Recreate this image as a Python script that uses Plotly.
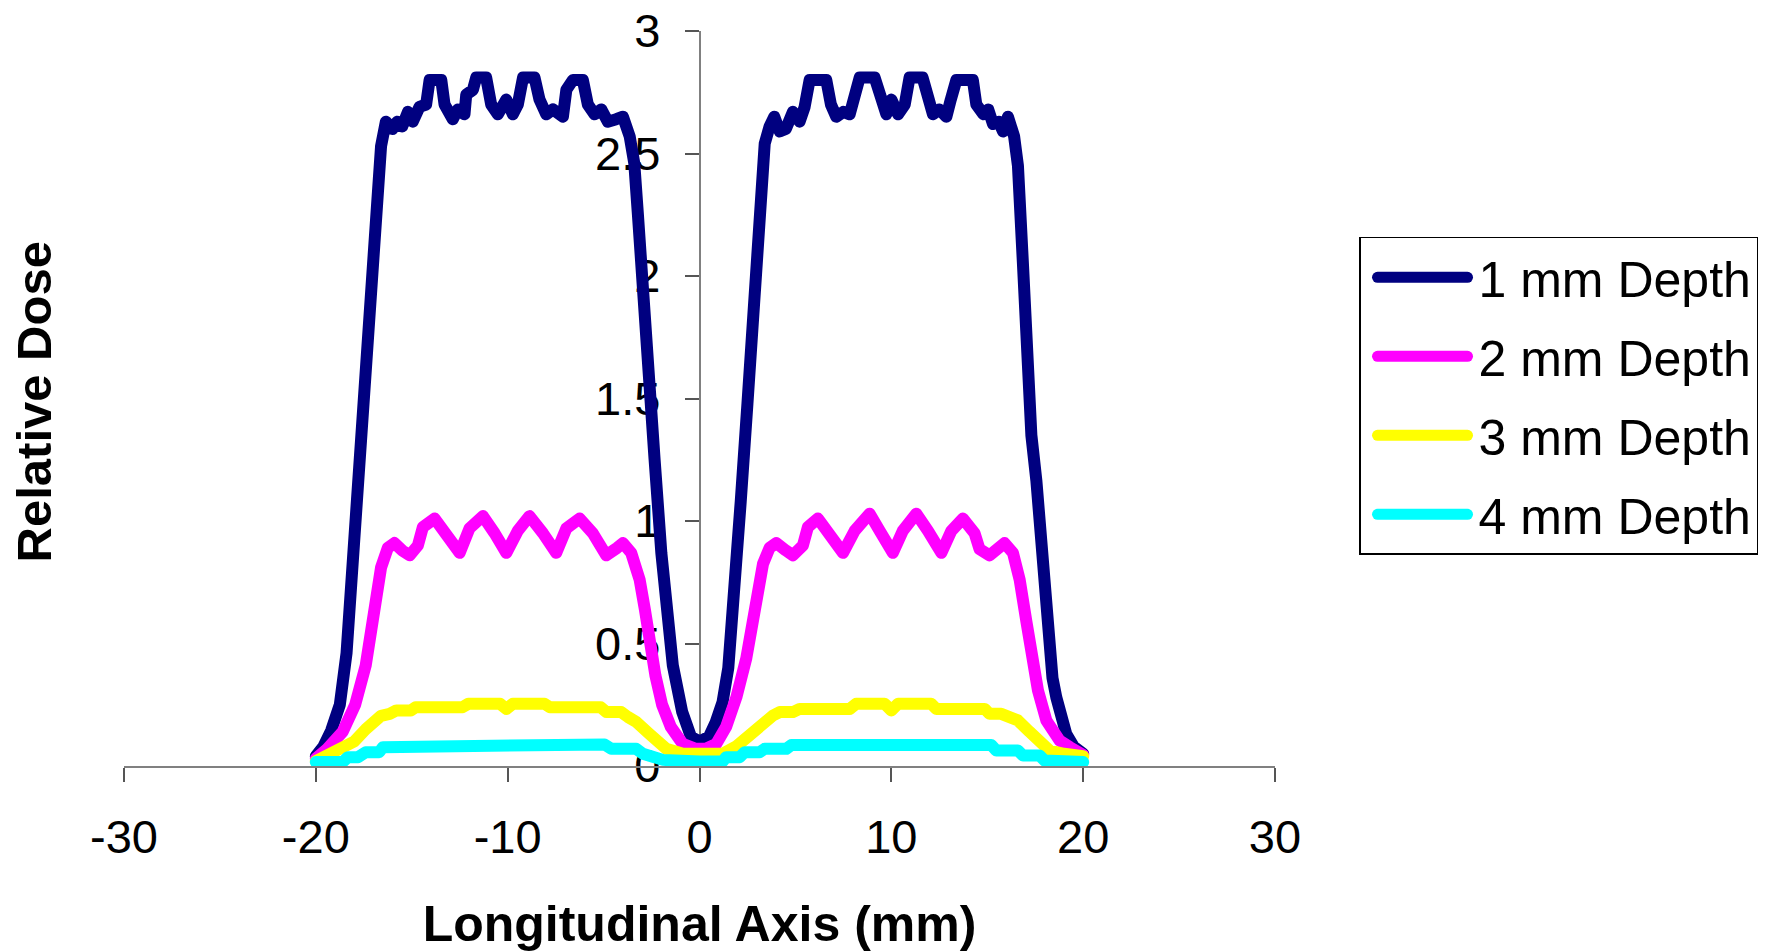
import plotly.graph_objects as go

# ---------------- data ----------------
x_tick_vals = [-30, -20, -10, 0, 10, 20, 30]
x_tick_text = ["-30", "-20", "-10", "0", "10", "20", "30"]
y_tick_vals = [0, 0.5, 1, 1.5, 2, 2.5, 3]
y_tick_text = ["0", "0.5", "1", "1.5", "2", "2.5", "3"]

series_names = ["1 mm Depth", "2 mm Depth", "3 mm Depth", "4 mm Depth"]
series_colors = ["#000080", "#FF00FF", "#FFFF00", "#00FFFF"]

depth1 = [
    (-20.0, 0.04), (-19.6, 0.08), (-19.2, 0.145), (-18.75, 0.25), (-18.4, 0.46),
    (-18.1, 0.82), (-17.9, 1.0), (-17.65, 1.25), (-17.4, 1.6), (-17.15, 2.0),
    (-16.85, 2.35), (-16.6, 2.53), (-16.35, 2.63), (-16.0, 2.60), (-15.75, 2.63),
    (-15.5, 2.61), (-15.2, 2.67), (-14.95, 2.63), (-14.6, 2.69), (-14.25, 2.70),
    (-14.07, 2.80), (-13.46, 2.80), (-13.29, 2.70), (-13.1, 2.68), (-12.86, 2.64),
    (-12.6, 2.68), (-12.25, 2.66), (-12.16, 2.74), (-11.81, 2.76), (-11.64, 2.81),
    (-11.12, 2.81), (-10.86, 2.70), (-10.51, 2.66), (-10.07, 2.72), (-9.73, 2.66),
    (-9.47, 2.70), (-9.2, 2.81), (-8.6, 2.81), (-8.34, 2.72), (-7.99, 2.66),
    (-7.64, 2.68), (-7.12, 2.65), (-6.94, 2.76), (-6.6, 2.80), (-6.08, 2.80),
    (-5.82, 2.70), (-5.47, 2.66), (-5.12, 2.68), (-4.78, 2.63), (-4.34, 2.64),
    (-3.99, 2.65), (-3.64, 2.57), (-3.4, 2.46), (-3.21, 2.25), (-3.03, 2.0),
    (-2.77, 1.67), (-2.34, 1.25), (-1.99, 0.87), (-1.73, 0.65), (-1.39, 0.41),
    (-0.9, 0.22), (-0.45, 0.12), (0.0, 0.10),
    (0.5, 0.12), (0.85, 0.18), (1.2, 0.26), (1.5, 0.40), (1.75, 0.63),
    (1.95, 0.85), (2.15, 1.08), (2.5, 1.48), (2.8, 1.85), (3.05, 2.15),
    (3.2, 2.40), (3.4, 2.54), (3.65, 2.61), (3.9, 2.65), (4.18, 2.59),
    (4.5, 2.60), (4.87, 2.67), (5.22, 2.63), (5.48, 2.69), (5.74, 2.80),
    (6.61, 2.80), (6.85, 2.70), (7.13, 2.65), (7.5, 2.67), (7.83, 2.66),
    (8.09, 2.74), (8.35, 2.81), (9.13, 2.81), (9.48, 2.73), (9.74, 2.66),
    (10.0, 2.72), (10.35, 2.66), (10.7, 2.70), (10.95, 2.81), (11.63, 2.81),
    (11.9, 2.72), (12.17, 2.66), (12.5, 2.68), (12.87, 2.65), (13.1, 2.72),
    (13.39, 2.80), (14.25, 2.80), (14.43, 2.70), (14.8, 2.66), (15.05, 2.68),
    (15.3, 2.62), (15.6, 2.63), (15.82, 2.59), (16.08, 2.65), (16.4, 2.57),
    (16.6, 2.45), (16.86, 2.05), (17.09, 1.67), (17.3, 1.35), (17.56, 1.165),
    (17.75, 0.98), (17.9, 0.82), (18.17, 0.49), (18.4, 0.36), (18.6, 0.28),
    (19.12, 0.13), (19.5, 0.08), (20.0, 0.05),
]

depth2 = [
    (-20.0, 0.03), (-19.4, 0.07), (-18.6, 0.14), (-17.95, 0.25), (-17.4, 0.41),
    (-16.95, 0.63), (-16.6, 0.81), (-16.25, 0.89), (-15.9, 0.91), (-15.5, 0.88),
    (-15.11, 0.86), (-14.68, 0.90), (-14.42, 0.975), (-13.81, 1.01), (-13.29, 0.95),
    (-12.5, 0.87), (-11.99, 0.97), (-11.29, 1.02), (-10.68, 0.95), (-10.07, 0.87),
    (-9.47, 0.96), (-8.86, 1.02), (-8.16, 0.95), (-7.47, 0.87), (-6.94, 0.97),
    (-6.25, 1.01), (-5.56, 0.95), (-4.86, 0.86), (-4.3, 0.89), (-3.99, 0.91),
    (-3.56, 0.87), (-3.12, 0.76), (-2.85, 0.64), (-2.55, 0.47), (-2.3, 0.37),
    (-1.95, 0.25), (-1.5, 0.16), (-0.87, 0.09), (-0.2, 0.07),
    (0.3, 0.07), (0.87, 0.09), (1.39, 0.16), (1.92, 0.28), (2.44, 0.44),
    (2.87, 0.65), (3.31, 0.825), (3.65, 0.89), (4.0, 0.91), (4.5, 0.88),
    (4.87, 0.86), (5.39, 0.90), (5.65, 0.975), (6.17, 1.01), (6.78, 0.95),
    (7.48, 0.87), (8.09, 0.96), (8.87, 1.03), (9.39, 0.96), (10.08, 0.87),
    (10.6, 0.96), (11.3, 1.03), (11.91, 0.96), (12.61, 0.87), (13.13, 0.96),
    (13.73, 1.01), (14.34, 0.95), (14.6, 0.885), (15.12, 0.86), (15.5, 0.88),
    (15.9, 0.91), (16.34, 0.87), (16.69, 0.76), (17.04, 0.59), (17.3, 0.44),
    (17.64, 0.31), (18.08, 0.186), (18.77, 0.104), (19.3, 0.077), (20.0, 0.045),
]

depth3 = [
    (-20.0, 0.02), (-19.3, 0.05), (-18.0, 0.10), (-17.4, 0.15), (-16.6, 0.205),
    (-16.15, 0.213), (-15.8, 0.227), (-15.05, 0.227), (-14.8, 0.24), (-12.35, 0.24),
    (-12.05, 0.254), (-10.4, 0.254), (-10.07, 0.233), (-9.73, 0.254), (-8.08, 0.254),
    (-7.8, 0.24), (-5.15, 0.24), (-4.86, 0.22), (-4.08, 0.22), (-3.73, 0.20),
    (-3.3, 0.18), (-2.6, 0.13), (-1.73, 0.07), (-0.87, 0.05), (0.0, 0.045),
    (1.2, 0.05), (1.92, 0.08), (2.2, 0.10), (3.13, 0.17), (3.83, 0.206),
    (4.18, 0.22), (4.87, 0.22), (5.22, 0.233), (7.83, 0.233), (8.17, 0.254),
    (9.65, 0.254), (10.0, 0.227), (10.35, 0.254), (12.08, 0.254), (12.35, 0.233),
    (14.87, 0.233), (15.12, 0.213), (15.73, 0.213), (16.08, 0.20), (16.6, 0.186),
    (17.2, 0.14), (17.73, 0.10), (18.25, 0.063), (19.0, 0.05), (20.0, 0.04),
]

depth4 = [
    (-20.0, 0.016), (-18.6, 0.016), (-18.33, 0.036), (-17.8, 0.036), (-17.4, 0.056),
    (-16.7, 0.056), (-16.5, 0.077), (-15.4, 0.077), (-15.1, 0.088), (-4.95, 0.088),
    (-4.6, 0.07), (-3.3, 0.07), (-2.95, 0.05), (-2.4, 0.04), (-1.9, 0.025),
    (0.0, 0.018), (1.2, 0.018), (1.39, 0.036), (2.09, 0.036), (2.35, 0.056),
    (3.13, 0.056), (3.39, 0.07), (4.52, 0.07), (4.79, 0.086), (15.21, 0.086),
    (15.47, 0.063), (16.6, 0.063), (16.86, 0.043), (17.73, 0.043), (17.99, 0.022),
    (20.0, 0.016),
]

series_points = [depth1, depth2, depth3, depth4]

# ---------------- figure ----------------
FONT = "Arial, 'Liberation Sans', sans-serif"
fig = go.Figure()
for name, pts, color in zip(series_names, series_points, series_colors):
    fig.add_trace(go.Scatter(
        x=[p[0] for p in pts], y=[p[1] for p in pts],
        mode="lines", name=name, legendgroup=name,
        line=dict(color=color, width=12),
    ))

fig.update_layout(
    width=1773, height=952,
    margin=dict(l=124, r=498, t=31, b=186, autoexpand=False),
    paper_bgcolor="white", plot_bgcolor="white",
    font=dict(family=FONT, color="black"),
    showlegend=True,
    legend=dict(
        x=1.073, y=0.72, xanchor="left", yanchor="top",
        bordercolor="black", borderwidth=1.5,
        font=dict(size=50, family=FONT, color="black"),
        itemwidth=108, tracegroupgap=11, traceorder="grouped",
    ),
    xaxis=dict(
        range=[-30, 30], domain=[0, 1],
        tickmode="array", tickvals=x_tick_vals, ticktext=x_tick_text,
        ticks="outside", ticklen=14, tickwidth=1.5, tickcolor="#555555",
        showline=True, linecolor="#808080", linewidth=1.5,
        showgrid=False, zeroline=False,
        tickfont=dict(size=47, family=FONT, color="black"),
        ticklabelstandoff=15,
        title=dict(text="<b>Longitudinal Axis (mm)</b>",
                   font=dict(size=50, family=FONT, color="black"), standoff=46),
    ),
    yaxis=dict(
        range=[0, 3], anchor="free", position=0.5, side="left",
        tickmode="array", tickvals=y_tick_vals, ticktext=y_tick_text,
        ticks="outside", ticklen=14, tickwidth=1.5, tickcolor="#555555",
        showline=True, linecolor="#808080", linewidth=1.5,
        showgrid=False, zeroline=False,
        tickfont=dict(size=47, family=FONT, color="black"),
        ticklabelstandoff=15,
        layer="below traces",
    ),
    annotations=[dict(
        text="<b>Relative Dose</b>", textangle=-90,
        xref="paper", yref="paper", x=-0.0782, y=0.496,
        xanchor="center", yanchor="middle", showarrow=False,
        font=dict(size=49, family=FONT, color="black"),
    )],
)

post = (
    "document.body.style.margin='0';document.body.style.overflow='hidden';"
    "var st=document.createElement('style');"
    "st.textContent='.js-line{stroke-linejoin:round !important;stroke-linecap:round !important;}"
    " .legend .js-line{stroke-width:11px !important;}';"
    "document.head.appendChild(st);"
    "document.querySelectorAll('.legend .legendlines path').forEach(function(p){"
    "p.setAttribute('d','M17,0h90');});"
)
fig.write_html("out.html", config={"displayModeBar": False}, post_script=post)
